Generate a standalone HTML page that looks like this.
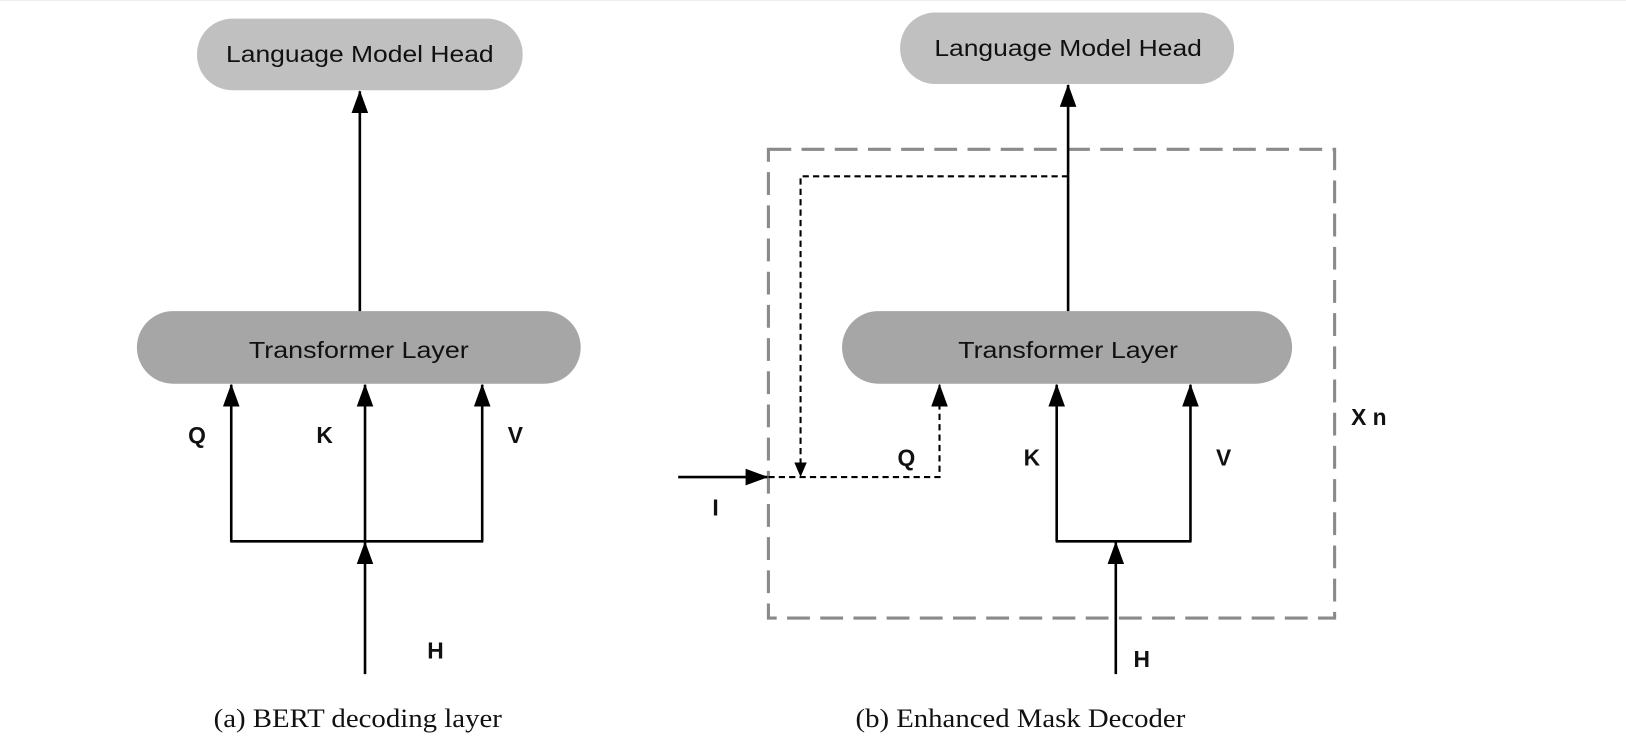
<!DOCTYPE html>
<html><head><style>html,body{margin:0;padding:0;background:#fff;}svg{display:block}</style></head><body>
<svg width="1626" height="756" viewBox="0 0 1568 729" preserveAspectRatio="none" xmlns="http://www.w3.org/2000/svg">
<defs>
<marker id="ah" markerWidth="22" markerHeight="16" refX="21" refY="8" orient="auto" markerUnits="userSpaceOnUse" viewBox="0 0 22 16">
<path d="M0,0 L22,8 L0,16 z" fill="#000"/></marker>
<marker id="ahs" markerWidth="14" markerHeight="12" refX="13" refY="6" orient="auto" markerUnits="userSpaceOnUse" viewBox="0 0 14 12">
<path d="M0,0 L14,6 L0,12 z" fill="#000"/></marker>
</defs>
<line x1="0" y1="0.5" x2="1568" y2="0.5" stroke="#eee"/>
<g font-family="Liberation Sans, sans-serif" font-size="22" fill="#111" text-anchor="middle">
<!-- left -->
<rect x="190" y="18" width="314" height="69" rx="34" fill="#c0c0c0"/>
<text x="347" y="60" textLength="258" lengthAdjust="spacingAndGlyphs">Language Model Head</text>
<rect x="132" y="300" width="428" height="70" rx="35" fill="#a6a6a6"/>
<text x="346" y="345" textLength="212" lengthAdjust="spacingAndGlyphs">Transformer Layer</text>
<g stroke="#000" stroke-width="2.5" fill="none">
<line x1="347" y1="300" x2="347" y2="88" marker-end="url(#ah)"/>
<line x1="223" y1="522" x2="223" y2="371" marker-end="url(#ah)"/>
<line x1="352" y1="522" x2="352" y2="371" marker-end="url(#ah)"/>
<line x1="465" y1="522" x2="465" y2="371" marker-end="url(#ah)"/>
<line x1="222" y1="522" x2="466" y2="522"/>
<line x1="352" y1="650" x2="352" y2="523" marker-end="url(#ah)"/>
</g>
<g font-weight="bold" font-size="22">
<text x="190" y="427">Q</text><text x="313" y="427">K</text><text x="497" y="427">V</text><text x="420" y="635">H</text>
</g>
<text x="345" y="701" font-family="Liberation Serif, serif" font-size="25" textLength="278" lengthAdjust="spacingAndGlyphs">(a) BERT decoding layer</text>
<!-- right -->
<rect x="868" y="12" width="322" height="69" rx="34" fill="#c0c0c0"/>
<text x="1030" y="54" textLength="258" lengthAdjust="spacingAndGlyphs">Language Model Head</text>
<rect x="741" y="144" width="546" height="452" fill="none" stroke="#8a8a8a" stroke-width="3" stroke-dasharray="22,10"/>
<rect x="812" y="300" width="434" height="70" rx="35" fill="#a6a6a6"/>
<text x="1030" y="345" textLength="212" lengthAdjust="spacingAndGlyphs">Transformer Layer</text>
<g stroke="#000" stroke-width="2.5" fill="none">
<line x1="1030" y1="300" x2="1030" y2="82" marker-end="url(#ah)"/>
<line x1="1019" y1="522" x2="1019" y2="371" marker-end="url(#ah)"/>
<line x1="1148" y1="522" x2="1148" y2="371" marker-end="url(#ah)"/>
<line x1="1018" y1="522" x2="1149" y2="522"/>
<line x1="1076" y1="650" x2="1076" y2="523" marker-end="url(#ah)"/>
<line x1="654" y1="460" x2="740" y2="460" marker-end="url(#ah)"/>
</g>
<g stroke="#000" stroke-width="2" fill="none" stroke-dasharray="6,4">
<polyline points="1030,170 772,170 772,459" marker-end="url(#ahs)"/>
<polyline points="741,460 906,460 906,371" marker-end="url(#ah)"/>
</g>
<g font-weight="bold" font-size="22">
<text x="874" y="449">Q</text><text x="995" y="449">K</text><text x="1180" y="449">V</text>
<text x="1320" y="410">X n</text><text x="1101" y="643">H</text><text x="690" y="497">I</text>
</g>
<text x="984" y="701" font-family="Liberation Serif, serif" font-size="25" textLength="318" lengthAdjust="spacingAndGlyphs">(b) Enhanced Mask Decoder</text>
</g>
</svg>
</body></html>
